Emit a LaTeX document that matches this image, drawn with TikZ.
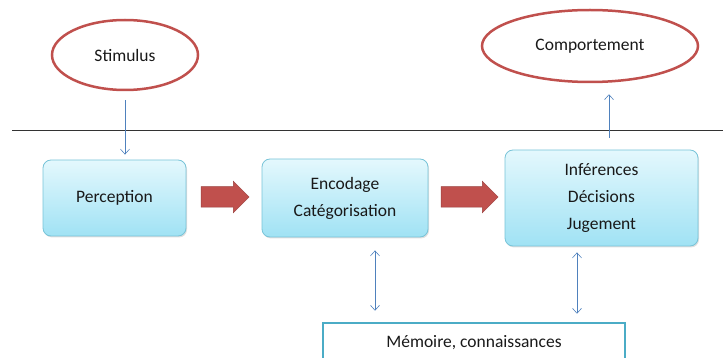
\documentclass[tikz,border=0pt]{standalone}
\usepackage{fontspec}
\setmainfont{Carlito}
\usetikzlibrary{shapes.geometric, shapes.arrows, arrows.meta, shadows}
\definecolor{ovalred}{RGB}{192,80,77}
\definecolor{boxedge}{RGB}{120,196,216}
\definecolor{boxtop}{RGB}{228,248,253}
\definecolor{boxbot}{RGB}{160,226,244}
\definecolor{linkblue}{RGB}{79,129,189}
\definecolor{memedge}{RGB}{75,172,198}
\begin{document}
\begin{tikzpicture}[x=1pt, y=-1pt, font=\fontsize{17.5}{27}\selectfont, text=black!90,
    oval/.style={ellipse, draw=ovalred, line width=2.5pt, inner sep=0pt},
    stage/.style={draw=boxedge, line width=0.8pt, rounded corners=8pt, top color=boxtop, bottom color=boxbot,
        align=center, inner sep=0pt, drop shadow={shadow xshift=1pt, shadow yshift=-1.5pt, opacity=0.25}},
    flow/.style={single arrow, fill=ovalred, draw=ovalred!80!black, line width=0.5pt, inner xsep=0pt, inner ysep=10pt,
        single arrow head extend=5.5pt, single arrow tip angle=90},
    link/.style={draw=linkblue, line width=0.6pt, -{Straight Barb[length=5pt, width=9pt]}},
    both/.style={link, {Straight Barb[length=5pt, width=9pt]}-{Straight Barb[length=5pt, width=9pt]}}]
    \useasboundingbox (0, 0) rectangle (723, 358);
    % separation line
    \draw [black!80, line width=0.8pt] (12, 130) -- (723, 130);
    \node [oval, minimum width=146, minimum height=70] (stim) at (125, 55) {Stimulus};
    \node [oval, minimum width=216, minimum height=72] (comp) at (590, 46) {Comportement};
    \node [stage, minimum width=143, minimum height=76] (perc) at (114.5, 198) {Perception};
    \node [stage, minimum width=166, minimum height=78] (enc) at (345, 198) {Encodage\\Catégorisation};
    \node [stage, minimum width=193, minimum height=96] (inf) at (601.5, 198) {Inférences\\Décisions\\Jugement};
    \node [draw=memedge, line width=2.5pt, minimum width=302, minimum height=40, inner sep=0pt] (mem) at (474, 343) {Mémoire,\ connaissances};
    \node [flow, minimum height=48] (f1) at (220, 197) {};
    \node [flow, minimum height=57] (f2) at (464.5, 197) {};
    \draw [link, shorten <=9pt, shorten >=5pt] (stim.south) -- (stim.south |- perc.north);
    \draw [link, shorten <=12pt, shorten >=11pt] ([xshift=7.5pt]inf.north) -- ([xshift=7.5pt]inf.north |- comp.south);
    \draw [both, shorten <=13pt, shorten >=11pt] ([xshift=30pt]enc.south) -- ([xshift=30pt]enc.south |- mem.north);
    \draw [both, shorten <=6pt, shorten >=8pt] ([xshift=-24.5pt]inf.south) -- ([xshift=-24.5pt]inf.south |- mem.north);
\end{tikzpicture}
\end{document}
